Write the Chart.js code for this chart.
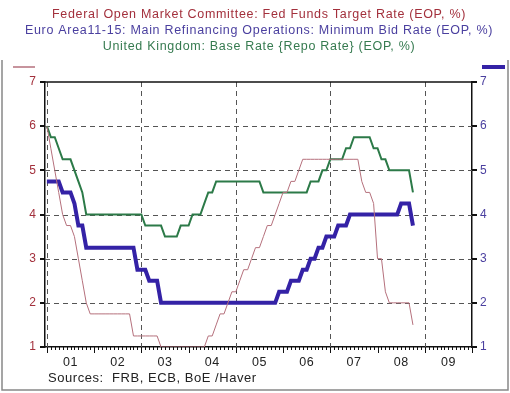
<!DOCTYPE html>
<html>
<head>
<meta charset="utf-8">
<script src="https://cdn.jsdelivr.net/npm/chart.js@4.4.1/dist/chart.umd.min.js"></script>
<style>
  html, body { margin: 0; padding: 0; background: #fff; }
  #wrap { width: 510px; height: 393px; }
</style>
</head>
<body>
<div id="wrap"><canvas id="graficoTasas" width="510" height="393"></canvas></div>
<script>
// monthly, end of period, Jan 2001 .. Oct 2008
const startYear = 2001;
const yearLabels = ['01', '02', '03', '04', '05', '06', '07', '08', '09'];
const gridYears = [2001, 2003, 2005, 2007, 2009];
const yTicks = [1, 2, 3, 4, 5, 6, 7];

const fedFunds = [
    6.0, 5.5, 5.0, 4.5, 4.0, 3.75, 3.75, 3.5, 3.0, 2.5, 2.0, 1.75,          // 01
    1.75, 1.75, 1.75, 1.75, 1.75, 1.75, 1.75, 1.75, 1.75, 1.75, 1.25, 1.25,  // 02
    1.25, 1.25, 1.25, 1.25, 1.25, 1.0, 1.0, 1.0, 1.0, 1.0, 1.0, 1.0,        // 03
    1.0, 1.0, 1.0, 1.0, 1.0, 1.25, 1.25, 1.5, 1.75, 1.75, 2.0, 2.25,        // 04
    2.25, 2.5, 2.75, 2.75, 3.0, 3.25, 3.25, 3.5, 3.75, 3.75, 4.0, 4.25,     // 05
    4.5, 4.5, 4.75, 4.75, 5.0, 5.25, 5.25, 5.25, 5.25, 5.25, 5.25, 5.25,    // 06
    5.25, 5.25, 5.25, 5.25, 5.25, 5.25, 5.25, 5.25, 4.75, 4.5, 4.5, 4.25,   // 07
    3.0, 3.0, 2.25, 2.0, 2.0, 2.0, 2.0, 2.0, 2.0, 1.5                       // 08
];

const ecbRefi = [
    4.75, 4.75, 4.75, 4.75, 4.5, 4.5, 4.5, 4.25, 3.75, 3.75, 3.25, 3.25,    // 01
    3.25, 3.25, 3.25, 3.25, 3.25, 3.25, 3.25, 3.25, 3.25, 3.25, 3.25, 2.75, // 02
    2.75, 2.75, 2.5, 2.5, 2.5, 2.0, 2.0, 2.0, 2.0, 2.0, 2.0, 2.0,           // 03
    2.0, 2.0, 2.0, 2.0, 2.0, 2.0, 2.0, 2.0, 2.0, 2.0, 2.0, 2.0,             // 04
    2.0, 2.0, 2.0, 2.0, 2.0, 2.0, 2.0, 2.0, 2.0, 2.0, 2.0, 2.25,            // 05
    2.25, 2.25, 2.5, 2.5, 2.5, 2.75, 2.75, 3.0, 3.0, 3.25, 3.25, 3.5,       // 06
    3.5, 3.5, 3.75, 3.75, 3.75, 4.0, 4.0, 4.0, 4.0, 4.0, 4.0, 4.0,          // 07
    4.0, 4.0, 4.0, 4.0, 4.0, 4.0, 4.25, 4.25, 4.25, 3.75                    // 08
];

const ukBase = [
    6.0, 5.75, 5.75, 5.5, 5.25, 5.25, 5.25, 5.0, 4.75, 4.5, 4.0, 4.0,       // 01
    4.0, 4.0, 4.0, 4.0, 4.0, 4.0, 4.0, 4.0, 4.0, 4.0, 4.0, 4.0,             // 02
    4.0, 3.75, 3.75, 3.75, 3.75, 3.75, 3.5, 3.5, 3.5, 3.5, 3.75, 3.75,      // 03
    3.75, 4.0, 4.0, 4.0, 4.25, 4.5, 4.5, 4.75, 4.75, 4.75, 4.75, 4.75,      // 04
    4.75, 4.75, 4.75, 4.75, 4.75, 4.75, 4.75, 4.5, 4.5, 4.5, 4.5, 4.5,      // 05
    4.5, 4.5, 4.5, 4.5, 4.5, 4.5, 4.5, 4.75, 4.75, 4.75, 5.0, 5.0,          // 06
    5.25, 5.25, 5.25, 5.25, 5.5, 5.5, 5.75, 5.75, 5.75, 5.75, 5.75, 5.5,    // 07
    5.5, 5.25, 5.25, 5.0, 5.0, 5.0, 5.0, 5.0, 5.0, 4.5                      // 08
];

const titulos = [
    { text: 'Federal Open Market Committee: Fed Funds Target Rate (EOP, %)', color: '#a3303c' },
    { text: 'Euro Area11-15: Main Refinancing Operations: Minimum Bid Rate (EOP, %)', color: '#4a3f9f' },
    { text: 'United Kingdom: Base Rate {Repo Rate} (EOP, %)', color: '#357a4f' }
];

const colorFed = '#b5707c';
const colorEcb = '#3422a6';
const colorUk = '#2c7a48';
const fuente = '"Liberation Sans", Arial, sans-serif';

function toPoints(values) {
    return values.map((v, i) => ({ x: startYear + i / 12, y: v }));
}

const decoracion = {
    id: 'decoracion',
    beforeDatasetsDraw(chart) {
        const { ctx, chartArea: a, scales: { x, y } } = chart;
        ctx.save();
        ctx.strokeStyle = '#555';
        ctx.lineWidth = 1;
        ctx.setLineDash([5, 4]);
        yTicks.slice(1, -1).forEach(v => {
            const py = Math.round(y.getPixelForValue(v)) + 0.5;
            ctx.beginPath();
            ctx.moveTo(a.left, py);
            ctx.lineTo(a.right, py);
            ctx.stroke();
        });
        gridYears.forEach(yr => {
            const px = Math.round(x.getPixelForValue(yr)) + 0.5;
            ctx.beginPath();
            ctx.moveTo(px, a.top);
            ctx.lineTo(px, a.bottom);
            ctx.stroke();
        });
        ctx.restore();
    },
    afterDraw(chart) {
        const { ctx, chartArea: a, scales: { x, y } } = chart;
        ctx.save();

        // top border of the plot box
        ctx.strokeStyle = '#111';
        ctx.lineWidth = 1.5;
        ctx.beginPath();
        ctx.moveTo(a.left, a.top);
        ctx.lineTo(a.right, a.top);
        ctx.stroke();

        // y tick marks, both sides
        ctx.lineWidth = 2;
        yTicks.forEach(v => {
            const py = Math.round(y.getPixelForValue(v));
            ctx.beginPath();
            ctx.moveTo(a.left - 5, py);
            ctx.lineTo(a.left, py);
            ctx.moveTo(a.right, py);
            ctx.lineTo(a.right + 5, py);
            ctx.stroke();
        });

        // x ticks: years and months
        ctx.lineWidth = 1;
        for (let m = 0; m <= yearLabels.length * 12 + 12; m++) {
            const val = startYear + m / 12;
            if (val > x.max + 0.001) break;
            const px = Math.round(x.getPixelForValue(val)) + 0.5;
            const len = m % 12 === 0 ? 6 : 3;
            ctx.beginPath();
            ctx.moveTo(px, a.bottom);
            ctx.lineTo(px, a.bottom + len);
            ctx.stroke();
        }

        ctx.fillStyle = '#222';
        ctx.font = '12.5px ' + fuente;
        ctx.textAlign = 'center';
        ctx.textBaseline = 'middle';
        ctx.letterSpacing = '0.5px';
        yearLabels.forEach((lab, i) => {
            ctx.fillText(lab, x.getPixelForValue(startYear + i + 0.5), a.bottom + 16);
        });

        ctx.textAlign = 'left';
        ctx.font = '13px ' + fuente;
        ctx.letterSpacing = '0.55px';
        ctx.fillText('Sources:  FRB, ECB, BoE /Haver', 48, 378);

        // titles
        ctx.textAlign = 'center';
        ctx.font = '12.5px ' + fuente;
        ctx.letterSpacing = '0.7px';
        titulos.forEach((t, i) => {
            ctx.fillStyle = t.color;
            ctx.fillText(t.text, 259, 15 + i * 16);
        });
        ctx.letterSpacing = '0px';

        // axis keys
        ctx.strokeStyle = colorFed;
        ctx.lineWidth = 1.5;
        ctx.beginPath();
        ctx.moveTo(13, 67);
        ctx.lineTo(35, 67);
        ctx.stroke();
        ctx.strokeStyle = colorEcb;
        ctx.lineWidth = 4;
        ctx.beginPath();
        ctx.moveTo(482, 67);
        ctx.lineTo(505, 67);
        ctx.stroke();

        // outer frame
        ctx.strokeStyle = '#888';
        ctx.lineWidth = 1.5;
        ctx.beginPath();
        ctx.moveTo(2, 60);
        ctx.lineTo(2, 390);
        ctx.lineTo(508, 390);
        ctx.lineTo(508, 60);
        ctx.stroke();

        ctx.restore();
    }
};

const ctx = document.getElementById('graficoTasas').getContext('2d');

const chartTasas = new Chart(ctx, {
    type: 'line',
    data: {
        datasets: [
            {
                label: 'Fed Funds Target Rate',
                data: toPoints(fedFunds),
                borderColor: colorFed,
                borderWidth: 1,
                yAxisID: 'y'
            },
            {
                label: 'ECB Minimum Bid Rate',
                data: toPoints(ecbRefi),
                borderColor: colorEcb,
                borderWidth: 4,
                yAxisID: 'y1'
            },
            {
                label: 'UK Base Rate',
                data: toPoints(ukBase),
                borderColor: colorUk,
                borderWidth: 2,
                yAxisID: 'y'
            }
        ]
    },
    options: {
        responsive: false,
        animation: false,
        events: [],
        elements: {
            point: { radius: 0 },
            line: { tension: 0, borderJoinStyle: 'miter', borderCapStyle: 'butt' }
        },
        layout: { padding: { top: 82, left: 0, right: 0, bottom: 0 } },
        plugins: {
            legend: { display: false },
            title: { display: false },
            tooltip: { enabled: false }
        },
        scales: {
            x: {
                type: 'linear',
                min: 2000.96,
                max: 2010.0,
                ticks: { display: false },
                grid: { display: false, drawTicks: false },
                border: { display: true, color: '#111', width: 1.5 },
                afterFit: scale => { scale.height = 46; }
            },
            y: {
                position: 'left',
                min: 1,
                max: 7,
                ticks: {
                    stepSize: 1,
                    padding: 9,
                    color: '#a3303c',
                    font: { family: fuente, size: 12 }
                },
                grid: { display: false, drawTicks: false },
                border: { display: true, color: '#111', width: 1.5 },
                afterFit: scale => { scale.width = 45; }
            },
            y1: {
                position: 'right',
                min: 1,
                max: 7,
                ticks: {
                    stepSize: 1,
                    padding: 8,
                    color: '#4a3f9f',
                    font: { family: fuente, size: 12 }
                },
                grid: { display: false, drawTicks: false },
                border: { display: true, color: '#111', width: 1.5 },
                afterFit: scale => { scale.width = 38; }
            }
        }
    },
    plugins: [decoracion]
});
</script>
</body>
</html>
